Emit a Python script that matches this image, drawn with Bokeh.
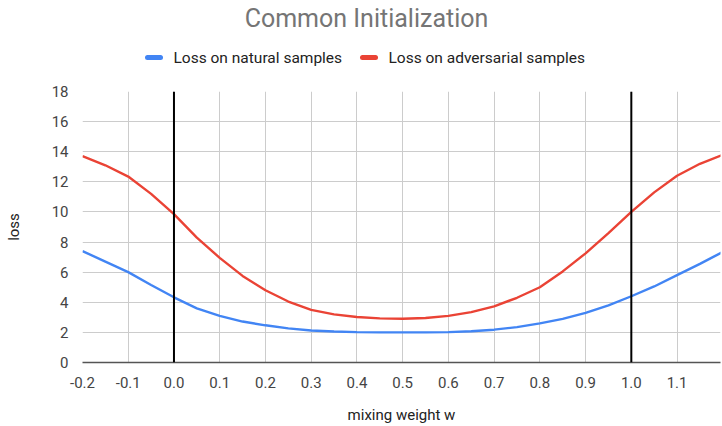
from bokeh.plotting import figure
from bokeh.models import FixedTicker, NumeralTickFormatter, Span, Range1d
from bokeh.layouts import column
from bokeh.core.properties import value
from bokeh.embed import file_html
from bokeh.resources import INLINE

# mixing weight w
w = [-0.2, -0.15, -0.1, -0.05, 0.0, 0.05, 0.1, 0.15, 0.2, 0.25, 0.3, 0.35, 0.4, 0.45,
     0.5, 0.55, 0.6, 0.65, 0.7, 0.75, 0.8, 0.85, 0.9, 0.95, 1.0, 1.05, 1.1, 1.15, 1.2]
loss_natural = [7.4, 6.7, 6.0, 5.15, 4.33, 3.6, 3.1, 2.72, 2.47, 2.27, 2.13, 2.06, 2.02, 2.0,
                2.0, 2.0, 2.02, 2.08, 2.18, 2.35, 2.6, 2.9, 3.3, 3.8, 4.4, 5.05, 5.8, 6.55, 7.35]
loss_adversarial = [13.7, 13.1, 12.35, 11.2, 9.85, 8.3, 6.95, 5.75, 4.8, 4.05, 3.5, 3.2, 3.02, 2.93,
                    2.91, 2.96, 3.1, 3.35, 3.73, 4.3, 5.0, 6.05, 7.25, 8.6, 10.0, 11.3, 12.4, 13.2, 13.8]
x_ticks = [-0.2, -0.1, 0.0, 0.1, 0.2, 0.3, 0.4, 0.5, 0.6, 0.7, 0.8, 0.9, 1.0, 1.1]
y_ticks = [0, 2, 4, 6, 8, 10, 12, 14, 16, 18]
marker_ws = [0.0, 1.0]
series_names = ["Loss on natural samples", "Loss on adversarial samples"]
series_colors = ["#4285F4", "#EA4335"]
title_text = "Common Initialization"

FONT = "Roboto"
W = 722
HEAD_H = 80
MAIN_H = 426 - HEAD_H
LEFT = 82
RIGHT = 2

# ---- header: title + legend (frame aligned with the chart frame) ----
head = figure(width=W, height=HEAD_H, output_backend="svg", toolbar_location=None,
              x_range=Range1d(LEFT, W - RIGHT), y_range=Range1d(HEAD_H, 0),
              x_axis_type=None, y_axis_type=None,
              min_border_left=LEFT, min_border_right=RIGHT,
              min_border_top=0, min_border_bottom=0)
head.outline_line_color = None
head.xgrid.visible = False
head.ygrid.visible = False
head.text(x=[366], y=[18], text=[title_text], text_align="center", text_baseline="middle",
          text_font=value(FONT), text_font_size="25px", text_color="#757575")
sw_x = [147, 362]
lab_x = [173, 388]
head.segment(x0=sw_x, x1=[s + 13 for s in sw_x], y0=[57, 57], y1=[57, 57],
             line_color=series_colors, line_width=5, line_cap="round")
head.text(x=lab_x, y=[57, 57], text=series_names, text_align="left", text_baseline="middle",
          text_font=value(FONT), text_font_size="15.5px", text_color="#222222")

# ---- main chart ----
p = figure(width=W, height=MAIN_H, output_backend="svg", toolbar_location=None,
           x_range=Range1d(-0.2, 1.195), y_range=Range1d(0, 18),
           min_border_left=LEFT, min_border_right=RIGHT, min_border_bottom=64, min_border_top=11)
p.outline_line_color = None
p.background_fill_color = "white"
p.border_fill_color = "white"

p.xaxis.ticker = FixedTicker(ticks=x_ticks)
p.yaxis.ticker = FixedTicker(ticks=y_ticks)
p.xaxis.formatter = NumeralTickFormatter(format="0.0")
for ax in (p.xaxis, p.yaxis):
    ax.major_tick_line_color = None
    ax.minor_tick_line_color = None
    ax.major_label_text_font = FONT
    ax.major_label_text_font_size = "15px"
    ax.major_label_text_color = "#444444"
    ax.axis_label_text_font = FONT
    ax.axis_label_text_font_size = "15px"
    ax.axis_label_text_font_style = "normal"
    ax.axis_label_text_color = "#222222"
p.yaxis.axis_line_color = None
p.xaxis.axis_line_color = "#555555"
p.xaxis.axis_line_width = 1.5
p.xaxis.axis_label = "mixing weight w"
p.yaxis.axis_label = "loss"
p.xaxis.axis_label_standoff = 15
p.yaxis.axis_label_standoff = 26
p.xaxis.major_label_standoff = 8
p.yaxis.major_label_standoff = 8

p.grid.grid_line_color = "#cccccc"
p.grid.grid_line_width = 1
p.xgrid.ticker = FixedTicker(ticks=x_ticks)
p.ygrid.ticker = FixedTicker(ticks=y_ticks)

p.line(w, loss_natural, line_color=series_colors[0], line_width=2.4)
p.line(w, loss_adversarial, line_color=series_colors[1], line_width=2.4)

for mw in marker_ws:
    p.add_layout(Span(location=mw, dimension="height", line_color="black", line_width=2))

layout = column(head, p, spacing=0)
open("out.html", "w").write(file_html(layout, INLINE))
